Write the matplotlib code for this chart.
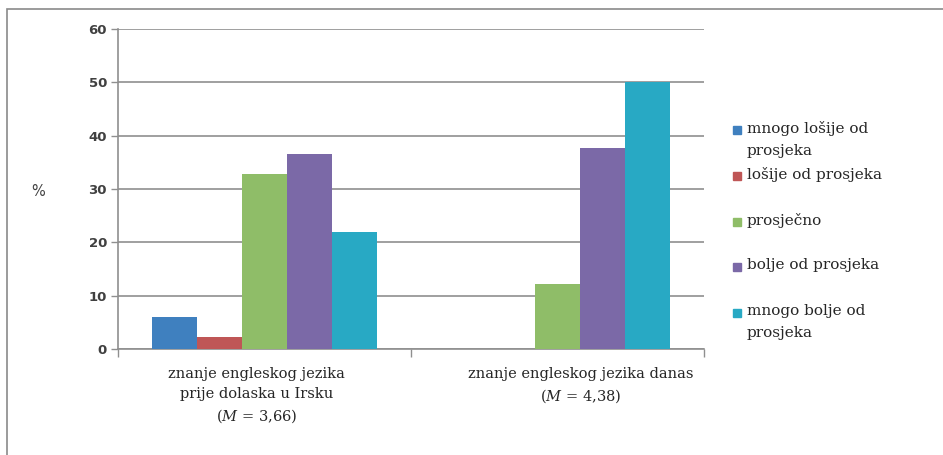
import matplotlib
matplotlib.use("Agg")
import matplotlib.pyplot as plt
import matplotlib.transforms as mtransforms
from matplotlib.patches import Rectangle
import numpy as np

plt.rcParams["mathtext.fontset"] = "dejavuserif"

categories = [
    "znanje engleskog jezika\nprije dolaska u Irsku\n($\\mathit{M}$ = 3,66)",
    "znanje engleskog jezika danas\n($\\mathit{M}$ = 4,38)",
]
series_names = [
    "mnogo lošije od\nprosjeka",
    "lošije od prosjeka",
    "prosječno",
    "bolje od prosjeka",
    "mnogo bolje od\nprosjeka",
]
values = [
    [6.0, 0.0],     # mnogo lošije od prosjeka
    [2.3, 0.0],     # lošije od prosjeka
    [32.8, 12.1],   # prosječno
    [36.6, 37.6],   # bolje od prosjeka
    [22.0, 50.0],   # mnogo bolje od prosjeka
]
colors = ["#3f80bf", "#bf5656", "#8fbd68", "#7b69a7", "#28a9c4"]
yticks = [0, 10, 20, 30, 40, 50, 60]

W, H = 943, 455
fig = plt.figure(figsize=(W / 100, H / 100), dpi=100)
ax = fig.add_axes([118 / W, 1 - 349 / H, 586 / W, 320 / H])

x = np.arange(len(categories))
bw = 45 / 293
n = len(series_names)
for i, (vals, c) in enumerate(zip(values, colors)):
    ax.bar(x + (i - (n - 1) / 2) * bw, vals, width=bw, color=c, zorder=3)

ax.set_xlim(-0.5, len(categories) - 0.5)
ax.set_ylim(0, 60)
ax.set_yticks(yticks)
ax.yaxis.grid(True, color="#8f8f8f", linewidth=1.2, zorder=0)
ax.tick_params(axis="y", length=5, color="#8f8f8f", width=1.0,
               labelsize=9.5, labelcolor="#404040", pad=3)
for lab in ax.get_yticklabels():
    lab.set_fontweight("bold")

ax.set_xticks(x)
ax.set_xticklabels(categories, fontfamily="DejaVu Serif", fontsize=10.5,
                   color="#262626", linespacing=1.5)
ax.set_xticks(np.arange(len(categories) + 1) - 0.5, minor=True)
ax.tick_params(axis="x", which="major", length=0, pad=13)
ax.tick_params(axis="x", which="minor", length=6, color="#8f8f8f", width=1.0)
offsets = [-8, 23]
for lab, dx in zip(ax.get_xticklabels(), offsets):
    lab.set_transform(lab.get_transform() +
                      mtransforms.ScaledTranslation(dx / 100, 0, fig.dpi_scale_trans))

for s in ["top", "right"]:
    ax.spines[s].set_visible(False)
for s in ["left", "bottom"]:
    ax.spines[s].set_color("#8f8f8f")
    ax.spines[s].set_linewidth(1.2)

ax.set_ylabel("%", rotation=0, fontsize=10.5, color="#404040")
ax.yaxis.set_label_coords(-0.1365, 0.47)

# legend drawn by hand with equal slot spacing (pixels from top)
for i, (name, c) in enumerate(zip(series_names, colors)):
    yc = 130 + i * 45.8
    fig.add_artist(Rectangle((733 / W, 1 - (yc + 4) / H), 8 / W, 8 / H,
                             transform=fig.transFigure, color=c))
    fig.text(747 / W, 1 - (yc - 9) / H, name, fontfamily="DejaVu Serif",
             fontsize=11, color="#262626", va="top", ha="left", linespacing=1.75)

# outer chart frame
fig.add_artist(Rectangle((7 / W, -0.1), 1.2, 1 - 9 / H + 0.1,
                         transform=fig.transFigure, fill=False,
                         edgecolor="#8a8a8a", linewidth=1.2))

fig.savefig("out.png", dpi=100)
